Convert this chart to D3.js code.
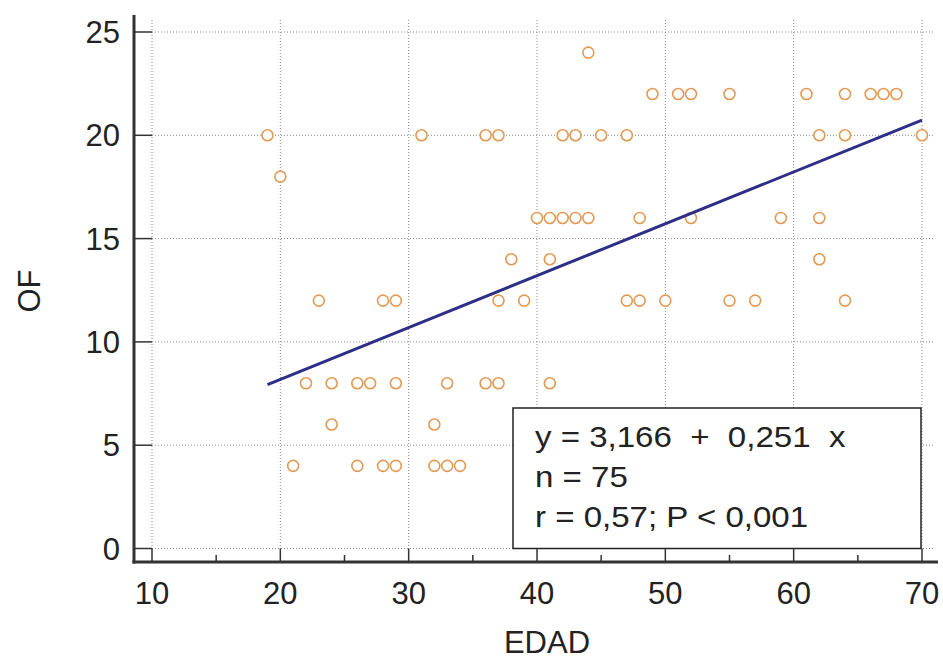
<!DOCTYPE html>
<html>
<head>
<meta charset="utf-8">
<script src="https://cdn.jsdelivr.net/npm/d3@7"></script>
<style>
  body { margin: 0; background: #fff; }
  text { font-family: "Liberation Sans", Arial, sans-serif; fill: #222; }
</style>
</head>
<body>
<svg width="943" height="660"></svg>
<script>
// data (overlapping points show once)
const edad = [
  44,
  49, 51, 52, 55, 61, 64, 66, 67, 68,
  19, 31, 36, 37, 42, 43, 45, 47, 62, 64, 70,
  20,
  40, 41, 42, 43, 44, 48, 52, 59, 62,
  38, 41, 62,
  23, 28, 29, 37, 39, 47, 48, 50, 55, 57, 64,
  22, 24, 26, 27, 29, 33, 36, 37, 41,
  24, 32,
  21, 26, 28, 29, 32, 33, 34
];
const of = [
  24,
  22, 22, 22, 22, 22, 22, 22, 22, 22,
  20, 20, 20, 20, 20, 20, 20, 20, 20, 20, 20,
  18,
  16, 16, 16, 16, 16, 16, 16, 16, 16,
  14, 14, 14,
  12, 12, 12, 12, 12, 12, 12, 12, 12, 12, 12,
  8, 8, 8, 8, 8, 8, 8, 8, 8,
  6, 6,
  4, 4, 4, 4, 4, 4, 4
];
const xTicks = [10, 20, 30, 40, 50, 60, 70];
const xMinor = [15, 25, 35, 45, 55, 65];
const yTicks = [0, 5, 10, 15, 20, 25];
const intercept = 3.166;
const slope = 0.251;
const fitRange = [19, 70];
const legendLines = ["y = 3,166  +  0,251  x", "n = 75", "r = 0,57; P < 0,001"];

const svg = d3.select("svg");

const x = d3.scaleLinear().domain([10, 70]).range([152, 922]);
const y = d3.scaleLinear().domain([0, 25]).range([548.5, 32]);

const axisX = 134;
const axisY = 562;

// grid
const grid = svg.append("g")
  .attr("stroke", "#8a8a8a")
  .attr("stroke-width", 1)
  .attr("stroke-dasharray", "1,2");

grid.selectAll("line.v")
  .data(xTicks)
  .join("line")
  .attr("x1", d => x(d))
  .attr("x2", d => x(d))
  .attr("y1", 20)
  .attr("y2", y(0));

grid.selectAll("line.h")
  .data(yTicks)
  .join("line")
  .attr("x1", x(10))
  .attr("x2", 934)
  .attr("y1", d => y(d))
  .attr("y2", d => y(d));

// points
svg.append("g")
  .selectAll("circle")
  .data(edad)
  .join("circle")
  .attr("cx", d => x(d))
  .attr("cy", (d, i) => y(of[i]))
  .attr("r", 5.5)
  .attr("fill", "#fff")
  .attr("stroke", "#e39a55")
  .attr("stroke-width", 1.6);

// regression line
svg.append("line")
  .attr("x1", x(fitRange[0]))
  .attr("y1", y(intercept + slope * fitRange[0]))
  .attr("x2", x(fitRange[1]))
  .attr("y2", y(intercept + slope * fitRange[1]))
  .attr("stroke", "#2e2e88")
  .attr("stroke-width", 3);

// legend box
const legend = svg.append("g");
legend.append("rect")
  .attr("x", 513)
  .attr("y", 408)
  .attr("width", 408)
  .attr("height", y(0) - 408)
  .attr("fill", "#fff")
  .attr("stroke", "#222")
  .attr("stroke-width", 1.5);

// text in the picture is a bit stretched sideways
legend.selectAll("text")
  .data(legendLines)
  .join("text")
  .attr("transform", (d, i) => `translate(535, ${447 + i * 40}) scale(1.14, 1)`)
  .attr("font-size", 29)
  .style("white-space", "pre")
  .text(d => d);

// axes
const axes = svg.append("g").attr("stroke", "#333");

axes.append("line")
  .attr("x1", axisX).attr("x2", axisX)
  .attr("y1", 15).attr("y2", axisY + 1.5)
  .attr("stroke-width", 3);

axes.append("line")
  .attr("x1", axisX - 1.5).attr("x2", 938)
  .attr("y1", axisY).attr("y2", axisY)
  .attr("stroke-width", 3);

axes.selectAll("line.yt")
  .data(yTicks)
  .join("line")
  .attr("x1", axisX)
  .attr("x2", x(10))
  .attr("y1", d => y(d))
  .attr("y2", d => y(d))
  .attr("stroke-width", 1.5);

axes.selectAll("line.xt")
  .data(xTicks)
  .join("line")
  .attr("x1", d => x(d))
  .attr("x2", d => x(d))
  .attr("y1", y(0))
  .attr("y2", axisY)
  .attr("stroke-width", 1.5);

axes.selectAll("line.xm")
  .data(xMinor)
  .join("line")
  .attr("x1", d => x(d))
  .attr("x2", d => x(d))
  .attr("y1", axisY - 7)
  .attr("y2", axisY)
  .attr("stroke-width", 1.5);

// tick labels
svg.append("g")
  .selectAll("text")
  .data(xTicks)
  .join("text")
  .attr("x", d => x(d))
  .attr("y", 604)
  .attr("text-anchor", "middle")
  .attr("font-size", 31)
  .text(d => d);

svg.append("g")
  .selectAll("text")
  .data(yTicks)
  .join("text")
  .attr("x", 120)
  .attr("y", d => y(d) + 11)
  .attr("text-anchor", "end")
  .attr("font-size", 31)
  .text(d => d);

// axis titles
svg.append("text")
  .attr("x", 547)
  .attr("y", 653)
  .attr("text-anchor", "middle")
  .attr("font-size", 31)
  .text("EDAD");

svg.append("text")
  .attr("transform", "translate(40, 291) rotate(-90)")
  .attr("text-anchor", "middle")
  .attr("font-size", 31)
  .text("OF");
</script>
</body>
</html>
